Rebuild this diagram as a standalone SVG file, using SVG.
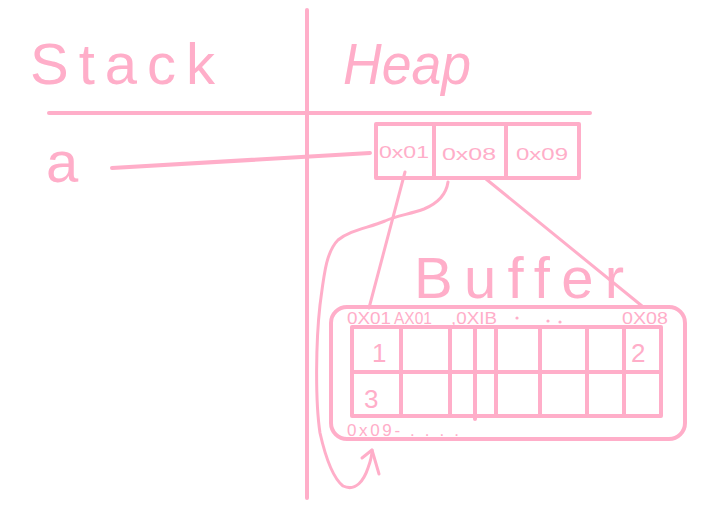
<svg xmlns="http://www.w3.org/2000/svg" width="719" height="525" viewBox="0 0 719 525">
<style>
.ln{fill:none;stroke:#ffaec9;stroke-width:4;stroke-linecap:round;stroke-linejoin:round}
.th{fill:none;stroke:#ffaec9;stroke-width:3;stroke-linecap:round;stroke-linejoin:round}
.dot{fill:#ffaec9}
.t{fill:#ffaec9;font-family:"Liberation Sans","DejaVu Sans",sans-serif}
.big{font-size:58px}
.sm{font-size:17px}
.md{font-size:26px}
</style>
<rect width="719" height="525" fill="#ffffff"/>
<g id="axes">
<line class="ln" x1="307" y1="10" x2="307" y2="498"/>
<line class="ln" x1="49" y1="113" x2="590" y2="113"/>
</g>
<g id="stack-title"><text class="t big" x="30" y="84" textLength="185" lengthAdjust="spacing">Stack</text></g>
<g id="heap-title"><text class="t big" x="343" y="84" font-style="italic" textLength="128" lengthAdjust="spacingAndGlyphs">Heap</text></g>
<g id="var-a"><text class="t big" x="46" y="182">a</text></g>
<g id="heap-box">
<rect class="ln" x="376" y="124" width="203" height="54"/>
<line class="ln" x1="434" y1="124" x2="434" y2="178"/>
<line class="ln" x1="506" y1="124" x2="506" y2="178"/>
<text class="t sm" x="379" y="158" textLength="50" lengthAdjust="spacingAndGlyphs">0x01</text>
<text class="t sm" x="442" y="160" textLength="54" lengthAdjust="spacingAndGlyphs">0x08</text>
<text class="t sm" x="516" y="160" textLength="52" lengthAdjust="spacingAndGlyphs">0x09</text>
</g>
<g id="buffer-title"><text class="t big" x="414" y="298" textLength="210" lengthAdjust="spacing">Buffer</text></g>
<g id="buffer">
<rect class="ln" x="331" y="307" width="354" height="132" rx="16"/>
<rect class="ln" x="352" y="327" width="309" height="89"/>
<line class="ln" x1="352" y1="372" x2="661" y2="372"/>
<line class="ln" x1="401" y1="327" x2="401" y2="416"/>
<line class="ln" x1="450" y1="327" x2="450" y2="416"/>
<line class="ln" x1="475" y1="327" x2="475" y2="419"/>
<line class="ln" x1="496" y1="327" x2="496" y2="416"/>
<line class="ln" x1="540" y1="327" x2="540" y2="416"/>
<line class="ln" x1="587" y1="327" x2="587" y2="416"/>
<line class="ln" x1="624" y1="327" x2="624" y2="416"/>
<text class="t sm" x="347" y="324" textLength="44" lengthAdjust="spacingAndGlyphs">0X01</text>
<text class="t sm" x="394" y="324" textLength="38" lengthAdjust="spacingAndGlyphs">AX01</text>
<text class="t sm" x="451" y="324" textLength="46" lengthAdjust="spacingAndGlyphs">,0XIB</text>
<circle class="dot" cx="517" cy="318" r="1.6"/>
<circle class="dot" cx="548" cy="321" r="1.6"/>
<circle class="dot" cx="560" cy="322" r="1.6"/>
<text class="t sm" x="622" y="324" textLength="46" lengthAdjust="spacingAndGlyphs">0X08</text>
<text class="t md" x="372" y="362">1</text>
<text class="t md" x="631" y="362">2</text>
<text class="t md" x="364" y="408">3</text>
<text class="t sm" x="347" y="436" textLength="112" lengthAdjust="spacing">0x09- . . . .</text>
</g>
<g id="connectors">
<line class="ln" x1="112" y1="168" x2="370" y2="153"/>
<line class="th" x1="405" y1="172" x2="369" y2="308"/>
<line class="th" x1="486" y1="179" x2="642" y2="306"/>
<path class="th" d="M448,182 C446,196 436,204 424,209 C410,214 396,216 385,221 C368,228 350,230 338,240 C326,252 324,275 320,305 C316,340 315,400 320,433 C325,455 333,478 343,486 C356,492 364,480 368,468 C371,460 372,455 372,450"/>
<path class="th" d="M362,458 L372,450 L379,474"/>
</g>
</svg>
